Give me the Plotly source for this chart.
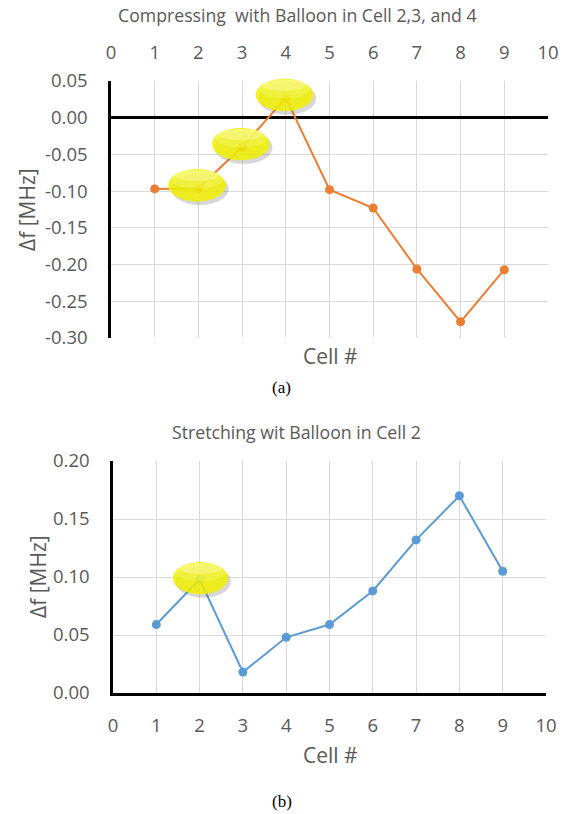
import plotly.graph_objects as go

cells = [1, 2, 3, 4, 5, 6, 7, 8, 9]
compress_df = [-0.097, -0.096, -0.040, 0.027, -0.098, -0.123, -0.206, -0.278, -0.207]
stretch_df = [0.059, 0.098, 0.018, 0.048, 0.059, 0.088, 0.132, 0.170, 0.105]
compress_balloon_cells = [2, 3, 4]
stretch_balloon_cells = [2]
x_ticks = list(range(0, 11))
top_y_ticks = [-0.30, -0.25, -0.20, -0.15, -0.10, -0.05, 0.00, 0.05]
bot_y_ticks = [0.00, 0.05, 0.10, 0.15, 0.20]

title_top = "Compressing  with Balloon in Cell 2,3, and 4"
title_bot = "Stretching wit Balloon in Cell 2"
y_title = "Δf [MHz]"
x_title = "Cell #"

X_RANGE = [0, 10]
TOP_RANGE = [-0.30, 0.05]
BOT_RANGE = [0.0, 0.20]

FONT = "Open Sans"
GRAY = "#595959"
GRID = "#D9D9D9"
ORANGE = "#ED7D31"
BLUE = "#5B9BD5"

fig = go.Figure()

fig.add_trace(go.Scatter(x=cells, y=compress_df, mode="lines+markers",
                         line=dict(color=ORANGE, width=2),
                         marker=dict(color=ORANGE, size=9),
                         xaxis="x", yaxis="y", showlegend=False, hoverinfo="skip"))
fig.add_trace(go.Scatter(x=cells, y=stretch_df, mode="lines+markers",
                         line=dict(color=BLUE, width=2),
                         marker=dict(color=BLUE, size=9),
                         xaxis="x2", yaxis="y2", showlegend=False, hoverinfo="skip"))


def balloon(ax, ay, xr, yr, cx, cy, hw, hh):
    # convert to axis-domain fractions so the shape is not clipped at the plot edge
    fx = (cx - xr[0]) / (xr[1] - xr[0])
    fy = (cy - yr[0]) / (yr[1] - yr[0])
    wx = hw / (xr[1] - xr[0])
    wy = hh / (yr[1] - yr[0])
    xref, yref = ax + " domain", ay + " domain"
    sx, sy = wx * 0.10, wy * 0.22
    fig.add_shape(type="circle", xref=xref, yref=yref,
                  x0=fx - wx + sx, x1=fx + wx + sx, y0=fy - wy - sy, y1=fy + wy - sy,
                  fillcolor="rgba(110,110,110,0.28)", line=dict(width=0), layer="above")
    fig.add_shape(type="circle", xref=xref, yref=yref,
                  x0=fx - wx, x1=fx + wx, y0=fy - wy, y1=fy + wy,
                  fillcolor="rgba(240,240,0,0.85)", line=dict(width=0), layer="above")
    fig.add_shape(type="circle", xref=xref, yref=yref,
                  x0=fx - wx * 0.9, x1=fx + wx * 0.9, y0=fy - wy * 0.2, y1=fy + wy * 0.97,
                  fillcolor="rgba(248,248,120,0.35)", line=dict(width=0), layer="above")
    fig.add_shape(type="circle", xref=xref, yref=yref,
                  x0=fx - wx * 0.75, x1=fx + wx * 0.75, y0=fy + wy * 0.25, y1=fy + wy * 0.95,
                  fillcolor="rgba(252,252,200,0.35)", line=dict(width=0), layer="above")


for c in compress_balloon_cells:
    v = compress_df[cells.index(c)]
    balloon("x", "y", X_RANGE, TOP_RANGE, c - 0.03, v + 0.004, 0.66, 0.022)
for c in stretch_balloon_cells:
    v = stretch_df[cells.index(c)]
    balloon("x2", "y2", X_RANGE, BOT_RANGE, c + 0.02, v + 0.001, 0.64, 0.0138)

tickfont = dict(family=FONT, size=18.5, color=GRAY)
titlefont = dict(family=FONT, size=17.7, color=GRAY)
axtitlefont = dict(family=FONT, size=21, color=GRAY)
capfont = dict(family="Liberation Serif", size=17, color="black")

common = dict(showgrid=True, gridcolor=GRID, gridwidth=1, ticks="",
              tickfont=tickfont, automargin=False)

fig.update_layout(
    width=569, height=814,
    margin=dict(l=0, r=0, t=0, b=0, autoexpand=False),
    paper_bgcolor="white", plot_bgcolor="white",
    xaxis=dict(domain=[111 / 569, 548 / 569], anchor="y", side="top",
               range=X_RANGE, tickvals=x_ticks, ticktext=[str(t) for t in x_ticks],
               showline=False, zeroline=False, ticklabelstandoff=17, **common),
    yaxis=dict(domain=[1 - 338 / 814, 1 - 81 / 814], anchor="x",
               range=TOP_RANGE, tickvals=top_y_ticks,
               ticktext=["%.2f" % t for t in top_y_ticks],
               showline=True, linecolor="black", linewidth=2.5,
               zeroline=True, zerolinecolor="black", zerolinewidth=2.5,
               ticklabelstandoff=17, **common),
    xaxis2=dict(domain=[113 / 569, 546 / 569], anchor="y2",
                range=X_RANGE, tickvals=x_ticks, ticktext=[str(t) for t in x_ticks],
                showline=True, linecolor="black", linewidth=2.5,
                zeroline=False, ticklabelstandoff=14, **common),
    yaxis2=dict(domain=[1 - 693 / 814, 1 - 461 / 814], anchor="x2",
                range=BOT_RANGE, tickvals=bot_y_ticks,
                ticktext=["%.2f" % t for t in bot_y_ticks],
                showline=True, linecolor="black", linewidth=2.5,
                zeroline=False, ticklabelstandoff=17, **common),
    annotations=[
        dict(text=title_top, x=297.5 / 569, y=1 - 15 / 814, font=titlefont),
        dict(text=y_title, x=27 / 569, y=1 - 210 / 814, textangle=-90, font=axtitlefont),
        dict(text=x_title, x=330 / 569, y=1 - 356 / 814, font=axtitlefont),
        dict(text="(a)", x=281 / 569, y=1 - 387 / 814, font=capfont),
        dict(text=title_bot, x=296.5 / 569, y=1 - 432 / 814, font=titlefont),
        dict(text=y_title, x=38 / 569, y=1 - 577 / 814, textangle=-90, font=axtitlefont),
        dict(text=x_title, x=330 / 569, y=1 - 755 / 814, font=axtitlefont),
        dict(text="(b)", x=282 / 569, y=1 - 801 / 814, font=capfont),
    ],
)
fig.update_annotations(xref="paper", yref="paper", xanchor="center", yanchor="middle",
                       showarrow=False)

fig.write_html("out.html", config={"displayModeBar": False},
               post_script="document.body.style.margin='0px';"
                           "document.body.style.overflow='hidden';")
